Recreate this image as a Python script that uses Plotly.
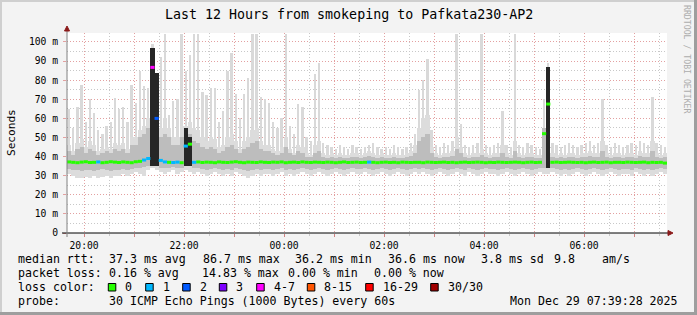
import plotly.graph_objects as go
from datetime import datetime, timedelta

# ---------------- data ----------------
title = "Last 12 Hours from smokeping to Pafkata230-AP2"
t_start = datetime(2025, 12, 28, 19, 39, 28)
t_end = datetime(2025, 12, 29, 7, 39, 28)
first_col = datetime(2025, 12, 28, 19, 42, 0)
col_minutes = 5
n_cols = 144

# median rtt (ms) per 5-minute column
med = [37.2, 37.0, 36.8, 37.1, 37.3, 36.9, 37.0, 37.2, 36.8, 37.0, 37.3, 37.1,
       36.9, 37.2, 37.0, 36.8, 37.3, 37.5, 38.2, 39.0, 86.7, 60.0, 38.0, 37.2,
       37.0, 36.9, 37.1, 36.8, 45.5, 46.5, 37.0, 37.2, 36.9, 37.1, 37.0, 36.8,
       37.2, 37.0, 36.9, 37.1, 37.3, 37.0, 36.8, 37.1, 37.0, 36.9, 37.2, 37.0,
       36.9, 37.1, 37.0, 37.2, 36.8, 37.0, 37.1, 36.9, 37.2, 37.0, 36.9, 37.1,
       37.0, 36.9, 37.1, 37.0, 36.8, 37.0, 37.2, 36.9, 37.0, 37.1, 36.9, 37.0,
       37.1, 37.0, 36.8, 37.0, 37.1, 36.9, 37.0, 36.8, 37.1, 37.0, 36.9, 37.0,
       37.0, 36.8, 37.1, 37.0, 36.9, 37.0, 37.1, 36.9, 37.0, 36.8, 37.0, 37.1,
       36.9, 37.0, 37.1, 37.0, 36.8, 37.0, 36.9, 37.1, 37.0, 36.9, 37.0, 37.1,
       37.0, 36.8, 37.0, 37.1, 36.9, 37.0, 52.0, 67.5, 37.0, 37.1, 36.9, 37.0,
       37.1, 37.0, 36.9, 37.0, 36.8, 37.0, 37.1, 36.9, 37.0, 37.1, 36.8, 37.0,
       37.0, 36.9, 37.1, 37.0, 36.9, 37.0, 37.1, 36.8, 37.0, 36.9, 37.0, 36.6]

# lost pings (of 30) per column
loss = [0, 0, 0, 0, 0, 0, 0, 1, 0, 0, 0, 0,
        0, 0, 0, 0, 0, 0, 1, 1, 5, 2, 1, 1,
        0, 1, 1, 0, 1, 0, 1, 0, 0, 0, 0, 0,
        0, 0, 0, 0, 0, 0, 0, 0, 0, 0, 0, 0,
        0, 0, 0, 0, 0, 0, 0, 0, 0, 0, 0, 0,
        0, 0, 0, 0, 0, 0, 0, 0, 0, 0, 0, 0,
        1, 0, 0, 0, 0, 0, 0, 0, 0, 0, 0, 0,
        0, 0, 0, 0, 0, 0, 0, 0, 0, 0, 0, 0,
        0, 0, 0, 0, 0, 0, 0, 0, 0, 0, 0, 0,
        0, 0, 0, 0, 0, 0, 0, 0, 0, 0, 0, 0,
        0, 0, 0, 0, 0, 0, 0, 0, 0, 0, 0, 0,
        0, 0, 0, 0, 0, 0, 0, 0, 0, 0, 0, 0]

# smoke: minimum ping per column
ping_min = [31, 30, 29, 29, 29.5, 29, 30, 29, 29.5, 30, 29, 30,
            30, 31, 30, 31, 32, 31, 30, 33, 34, 33, 32, 31,
            32, 33, 31, 32, 33, 32, 31, 32, 31, 30, 31, 32,
            31, 30, 31, 30, 32, 31, 30, 29, 30, 31, 30, 31,
            31, 30, 31, 32, 30, 31, 30, 31, 32, 31, 30, 31,
            32, 31, 30, 31, 32, 31, 30, 31, 32, 31, 31, 32,
            31, 30, 31, 32, 31, 30, 31, 32, 31, 30, 31, 32,
            31, 32, 31, 30, 31, 32, 31, 30, 31, 32, 31, 30,
            32, 31, 30, 31, 32, 31, 31, 30, 31, 32, 31, 30,
            31, 32, 31, 30, 31, 32, 31, 31, 32, 31, 30, 31,
            30, 31, 32, 31, 30, 31, 32, 31, 30, 31, 32, 31,
            30, 31, 31, 30, 32, 31, 30, 31, 30, 31, 32, 31]

# smoke: maximum ping per column
ping_max = [65, 55, 66, 77.5, 58, 70, 63, 54, 52, 56, 58, 70.5,
            65, 66, 58, 77.5, 68, 85, 77, 76, 99, 70, 92, 104,
            62, 69, 70, 104, 85, 93, 104, 104, 74, 72, 76, 76,
            58, 64, 85, 94, 73, 60, 73, 81, 104, 104, 71, 70,
            68, 58, 55, 60, 104, 56, 52, 67.5, 66, 50, 48, 83,
            89, 47, 46, 45, 44, 46, 45, 44, 46, 45, 44, 45,
            46, 47, 45, 44, 45, 44, 46, 45, 44, 45, 47, 52,
            75, 80, 91, 54, 46, 45, 47, 46, 48, 104, 57, 46,
            45, 46, 47, 104, 46, 45, 46, 47, 64, 46, 45, 104,
            46, 45, 47, 46, 45, 44, 70, 89, 47, 46, 45, 46,
            47, 46, 45, 46, 47, 48, 46, 47, 70, 46, 45, 47,
            46, 45, 46, 47, 46, 48, 47, 46, 71, 47, 46, 45]

# smoke: upper edge of the continuous light part
dense_hi = [46, 43, 47, 49, 45, 48, 46, 43, 44, 45, 44, 47,
            46, 47, 44, 50, 50, 54, 56, 60, 70, 62, 55, 60,
            55, 50, 50, 56, 56, 58, 55, 54, 50, 48, 50, 49,
            45, 46, 50, 52, 48, 44, 48, 50, 54, 55, 48, 46,
            46, 44, 43, 45, 50, 44, 42, 46, 45, 42, 41, 46,
            48, 42, 41, 42, 41, 42, 41, 41, 42, 42, 41, 42,
            43, 42, 41, 42, 41, 41, 42, 41, 41, 42, 43, 46,
            55, 60, 62, 45, 42, 41, 42, 42, 43, 50, 45, 42,
            41, 42, 42, 44, 42, 41, 42, 42, 46, 42, 41, 48,
            42, 41, 42, 42, 41, 41, 55, 70, 42, 41, 42, 41,
            42, 42, 41, 42, 42, 43, 42, 42, 48, 42, 41, 42,
            42, 41, 42, 42, 41, 43, 42, 42, 48, 42, 41, 42]

# smoke: the denser core around the median (lower / upper edge)
core_lo = [33.5, 33, 33, 32.5, 33, 33, 32.5, 33, 33.5, 33, 32.5, 33,
           33, 33.5, 33, 33.5, 34, 34, 34.5, 35, 35, 35, 34, 34,
           34, 34.5, 34, 34, 35, 35, 34, 34, 33.5, 33, 33.5, 34,
           33.5, 33, 33.5, 33, 34, 33.5, 33, 32.5, 33, 33.5, 33, 33.5,
           33.5, 33, 33.5, 34, 33, 33.5, 33, 33.5, 34, 33.5, 33, 33.5,
           34, 33.5, 33, 33.5, 34, 33.5, 33, 33.5, 34, 33.5, 33.5, 34,
           33.5, 33, 33.5, 34, 33.5, 33, 33.5, 34, 33.5, 33, 33.5, 34,
           33.5, 34, 33.5, 33, 33.5, 34, 33.5, 33, 33.5, 34, 33.5, 33,
           34, 33.5, 33, 33.5, 34, 33.5, 33.5, 33, 33.5, 34, 33.5, 33,
           33.5, 34, 33.5, 33, 33.5, 34, 34, 34, 34, 33.5, 33, 33.5,
           33, 33.5, 34, 33.5, 33, 33.5, 34, 33.5, 33, 33.5, 34, 33.5,
           33, 33.5, 33.5, 33, 34, 33.5, 33, 33.5, 33, 33.5, 34, 33.5]

core_hi = [43, 41, 44, 45, 42, 44, 43, 41, 42, 43, 42, 44,
           43, 44, 42, 46, 46, 50, 52, 55, 60, 55, 50, 52,
           50, 46, 46, 50, 52, 52, 48, 47, 45, 44, 45, 44,
           42, 43, 45, 46, 44, 42, 44, 45, 47, 48, 44, 43,
           43, 42, 41, 42, 45, 42, 41, 43, 42, 40, 40, 42,
           43, 40, 39.5, 40, 39.5, 40, 39.5, 39.5, 40, 40, 39.5, 40,
           40.5, 40, 39.5, 40, 39.5, 39.5, 40, 39.5, 39.5, 40, 40.5, 42,
           48, 50, 52, 42, 40, 39.5, 40, 40, 40.5, 44, 42, 40,
           39.5, 40, 40, 41, 40, 39.5, 40, 40, 42, 40, 39.5, 43,
           40, 39.5, 40, 40, 39.5, 39.5, 55, 60, 40, 39.5, 40, 39.5,
           40, 40, 39.5, 40, 40, 40.5, 40, 40, 43, 40, 39.5, 40,
           40, 39.5, 40, 40, 39.5, 40.5, 40, 40, 43, 40, 39.5, 40]

# smoke: top of the very dark core (0 = none)
dark_hi = [0, 0, 0, 0, 0, 0, 0, 0, 0, 0, 0, 0,
           0, 0, 0, 0, 0, 0, 0, 0, 97, 84, 0, 0,
           0, 0, 0, 0, 55, 50, 0, 0, 0, 0, 0, 0,
           0, 0, 0, 0, 0, 0, 0, 0, 0, 0, 0, 0,
           0, 0, 0, 0, 0, 0, 0, 0, 0, 0, 0, 0,
           0, 0, 0, 0, 0, 0, 0, 0, 0, 0, 0, 0,
           0, 0, 0, 0, 0, 0, 0, 0, 0, 0, 0, 0,
           0, 0, 0, 0, 0, 0, 0, 0, 0, 0, 0, 0,
           0, 0, 0, 0, 0, 0, 0, 0, 0, 0, 0, 0,
           0, 0, 0, 0, 0, 0, 0, 87, 0, 0, 0, 0,
           0, 0, 0, 0, 0, 0, 0, 0, 0, 0, 0, 0,
           0, 0, 0, 0, 0, 0, 0, 0, 0, 0, 0, 0]

y_tick_vals = [0, 10, 20, 30, 40, 50, 60, 70, 80, 90, 100]
y_tick_text = ["0", "10 m", "20 m", "30 m", "40 m", "50 m", "60 m", "70 m", "80 m", "90 m", "100 m"]
x_tick_hours = ["2025-12-28 20:00", "2025-12-28 21:00", "2025-12-28 22:00", "2025-12-28 23:00",
                "2025-12-29 00:00", "2025-12-29 01:00", "2025-12-29 02:00", "2025-12-29 03:00",
                "2025-12-29 04:00", "2025-12-29 05:00", "2025-12-29 06:00", "2025-12-29 07:00"]
x_tick_text = ["20:00", "", "22:00", "", "00:00", "", "02:00", "", "04:00", "", "06:00", ""]

loss_labels = ["0", "1", "2", "3", "4-7", "8-15", "16-29", "30/30"]
loss_colors = ["#26ff00", "#00b8ff", "#0059ff", "#7e00ff", "#ff00ff", "#ff5500", "#ff0000", "#a10000"]

row_rtt = [("median rtt:", 16), ("37.3 ms avg", 107), ("86.7 ms max", 200.7), ("36.2 ms min", 293.3),
           ("36.6 ms now", 385.7), ("3.8 ms sd", 479.3), ("9.8", 552.3), ("am/s", 600)]
row_loss = [("packet loss:", 16), ("0.16 % avg", 107.3), ("14.83 % max", 200), ("0.00 % min", 286.3),
            ("0.00 % now", 372.3)]
probe_text = "30 ICMP Echo Pings (1000 Bytes) every 60s"
stamp_text = "Mon Dec 29 07:39:28 2025"

# ---------------- layout constants ----------------
W, H = 697, 315
L, R, T, B = 67, 667, 33, 233
Y_MAX = 104.7
MONO = "DejaVu Sans Mono"
BG = "#f3f3f3"


def px(xpix):
    return (xpix - L) / (R - L)


def py(ypix):
    return (B - ypix) / (B - T)


def loss_class(n):
    if n <= 3:
        return n
    if n <= 7:
        return 4
    if n <= 15:
        return 5
    if n <= 29:
        return 6
    return 7


times = [first_col + timedelta(minutes=col_minutes * i) for i in range(n_cols)]
col_ms = col_minutes * 60 * 1000


def band(base, top, color, frac):
    return go.Bar(x=times, base=base, y=[max(t - b, 0) for b, t in zip(base, top)],
                  width=col_ms * frac, marker=dict(color=color, line=dict(width=0)),
                  hoverinfo="skip", showlegend=False)


fig = go.Figure()
fig.add_trace(band(dense_hi, ping_max, "#d9d9d9", 0.55))   # thin outlier spikes
fig.add_trace(band(ping_min, dense_hi, "#dcdcdc", 1.0))    # continuous light smoke
fig.add_trace(band(core_lo, core_hi, "#bdbdbd", 1.0))      # dense core
fig.add_trace(band(core_lo, dark_hi, "#262626", 1.0))      # very dark core on spikes

# median line segments coloured by loss
half = timedelta(minutes=col_minutes / 2)
for c, col in enumerate(loss_colors):
    xs, ys = [], []
    for t, m, n in zip(times, med, loss):
        if loss_class(n) == c:
            xs += [t - half, t + half, None]
            ys += [m, m, None]
    if xs:
        fig.add_trace(go.Scatter(x=xs, y=ys, mode="lines", line=dict(color=col, width=3),
                                 hoverinfo="skip", showlegend=False))

annotations = []
shapes = []

annotations.append(dict(text=title, x=px(W / 2), y=py(14), xref="paper", yref="paper",
                        xanchor="center", yanchor="middle", showarrow=False,
                        font=dict(family=MONO, size=13.3, color="#000")))
annotations.append(dict(text="Seconds", x=px(11), y=py(133), xref="paper", yref="paper",
                        xanchor="center", yanchor="middle", showarrow=False, textangle=-90,
                        font=dict(family=MONO, size=11.1, color="#000")))
annotations.append(dict(text="RRDTOOL / TOBI OETIKER", x=px(687), y=py(59), xref="paper", yref="paper",
                        xanchor="center", yanchor="middle", showarrow=False, textangle=90,
                        font=dict(family=MONO, size=8.2, color="#adadad")))

LEG = dict(family=MONO, size=11.6, color="#000")
for txt, x0 in row_rtt:
    annotations.append(dict(text=txt.replace(" ", "&nbsp;"), x=px(x0), y=py(259.3), xref="paper", yref="paper",
                            xanchor="left", yanchor="middle", showarrow=False, font=LEG))
for txt, x0 in row_loss:
    annotations.append(dict(text=txt.replace(" ", "&nbsp;"), x=px(x0), y=py(272.7), xref="paper", yref="paper",
                            xanchor="left", yanchor="middle", showarrow=False, font=LEG))
annotations.append(dict(text="loss&nbsp;color:", x=px(16), y=py(286.7), xref="paper", yref="paper",
                        xanchor="left", yanchor="middle", showarrow=False, font=LEG))
sw_x = [108.3, 145.7, 182.7, 219.3, 256.7, 307.3, 365.7, 430.7]
for lab, col, x0 in zip(loss_labels, loss_colors, sw_x):
    shapes.append(dict(type="rect", xref="paper", yref="paper", x0=px(x0), x1=px(x0 + 7.5),
                       y0=py(291), y1=py(283.5), fillcolor=col, line=dict(color="#000", width=1)))
    annotations.append(dict(text=lab, x=px(x0 + 15), y=py(286.7), xref="paper", yref="paper",
                            xanchor="left", yanchor="middle", showarrow=False, font=LEG))
annotations.append(dict(text="probe:", x=px(16), y=py(301), xref="paper", yref="paper",
                        xanchor="left", yanchor="middle", showarrow=False, font=LEG))
annotations.append(dict(text=probe_text.replace(" ", "&nbsp;"), x=px(107.3), y=py(301), xref="paper", yref="paper",
                        xanchor="left", yanchor="middle", showarrow=False, font=LEG))
annotations.append(dict(text=stamp_text.replace(" ", "&nbsp;"), x=px(680), y=py(301), xref="paper", yref="paper",
                        xanchor="right", yanchor="middle", showarrow=False, font=LEG))

# frame (3D border)
shapes += [
    dict(type="rect", xref="paper", yref="paper", x0=px(0), x1=px(W), y0=py(0), y1=py(2),
         fillcolor="#cfcfcf", line=dict(width=0), layer="below"),
    dict(type="rect", xref="paper", yref="paper", x0=px(0), x1=px(2), y0=py(0), y1=py(H),
         fillcolor="#cfcfcf", line=dict(width=0), layer="below"),
    dict(type="rect", xref="paper", yref="paper", x0=px(0), x1=px(W), y0=py(312), y1=py(H),
         fillcolor="#9e9e9e", line=dict(width=0), layer="below"),
    dict(type="rect", xref="paper", yref="paper", x0=px(694), x1=px(W), y0=py(0), y1=py(H),
         fillcolor="#9e9e9e", line=dict(width=0), layer="below"),
]
# axis lines and arrows
shapes += [
    dict(type="line", xref="paper", yref="paper", x0=px(62), x1=px(669), y0=py(233), y1=py(233),
         line=dict(color="#000", width=1)),
    dict(type="path", xref="paper", yref="paper",
         path=f"M {px(668)} {py(230.5)} L {px(673)} {py(233)} L {px(668)} {py(235.5)} Z",
         fillcolor="#8b1a1a", line=dict(color="#8b1a1a", width=1)),
    dict(type="line", xref="paper", yref="paper", x0=px(67), x1=px(67), y0=py(237), y1=py(30),
         line=dict(color="#808080", width=1)),
    dict(type="path", xref="paper", yref="paper",
         path=f"M {px(64.5)} {py(31)} L {px(67)} {py(26)} L {px(69.5)} {py(31)} Z",
         fillcolor="#8b1a1a", line=dict(color="#8b1a1a", width=1)),
]

GRID_MAJ = "#e3a0a0"
GRID_MIN = "#c8c8c8"
fig.update_layout(
    width=W, height=H, margin=dict(l=L, r=W - R, t=T, b=H - B),
    paper_bgcolor=BG, plot_bgcolor="#ffffff",
    barmode="overlay", bargap=0, showlegend=False,
    annotations=annotations, shapes=shapes,
    xaxis=dict(type="date", range=[t_start, t_end], tickmode="array", tickvals=x_tick_hours,
               ticktext=x_tick_text, showgrid=True, gridcolor=GRID_MAJ, griddash="1px,2px", gridwidth=1,
               ticks="outside", ticklen=3, tickcolor="#d08080", showline=False, zeroline=False,
               tickfont=dict(family=MONO, size=9.7, color="#000"),
               minor=dict(dtick=30 * 60 * 1000, tick0="2025-12-28 20:00", showgrid=True, gridcolor=GRID_MIN,
                          griddash="1px,2px", gridwidth=1, ticks="outside", ticklen=2, tickcolor="#c8c8c8"),
               fixedrange=True),
    yaxis=dict(range=[0, Y_MAX], tickmode="array", tickvals=y_tick_vals, ticktext=y_tick_text,
               showgrid=True, gridcolor=GRID_MAJ, griddash="1px,2px", gridwidth=1,
               ticks="outside", ticklen=3, tickcolor="#e3a0a0", showline=False, zeroline=False,
               tickfont=dict(family=MONO, size=9.7, color="#000"), ticklabelstandoff=3,
               minor=dict(dtick=5, showgrid=True, gridcolor=GRID_MIN, griddash="1px,2px", gridwidth=1),
               fixedrange=True),
)

fig.write_html("out.html")
